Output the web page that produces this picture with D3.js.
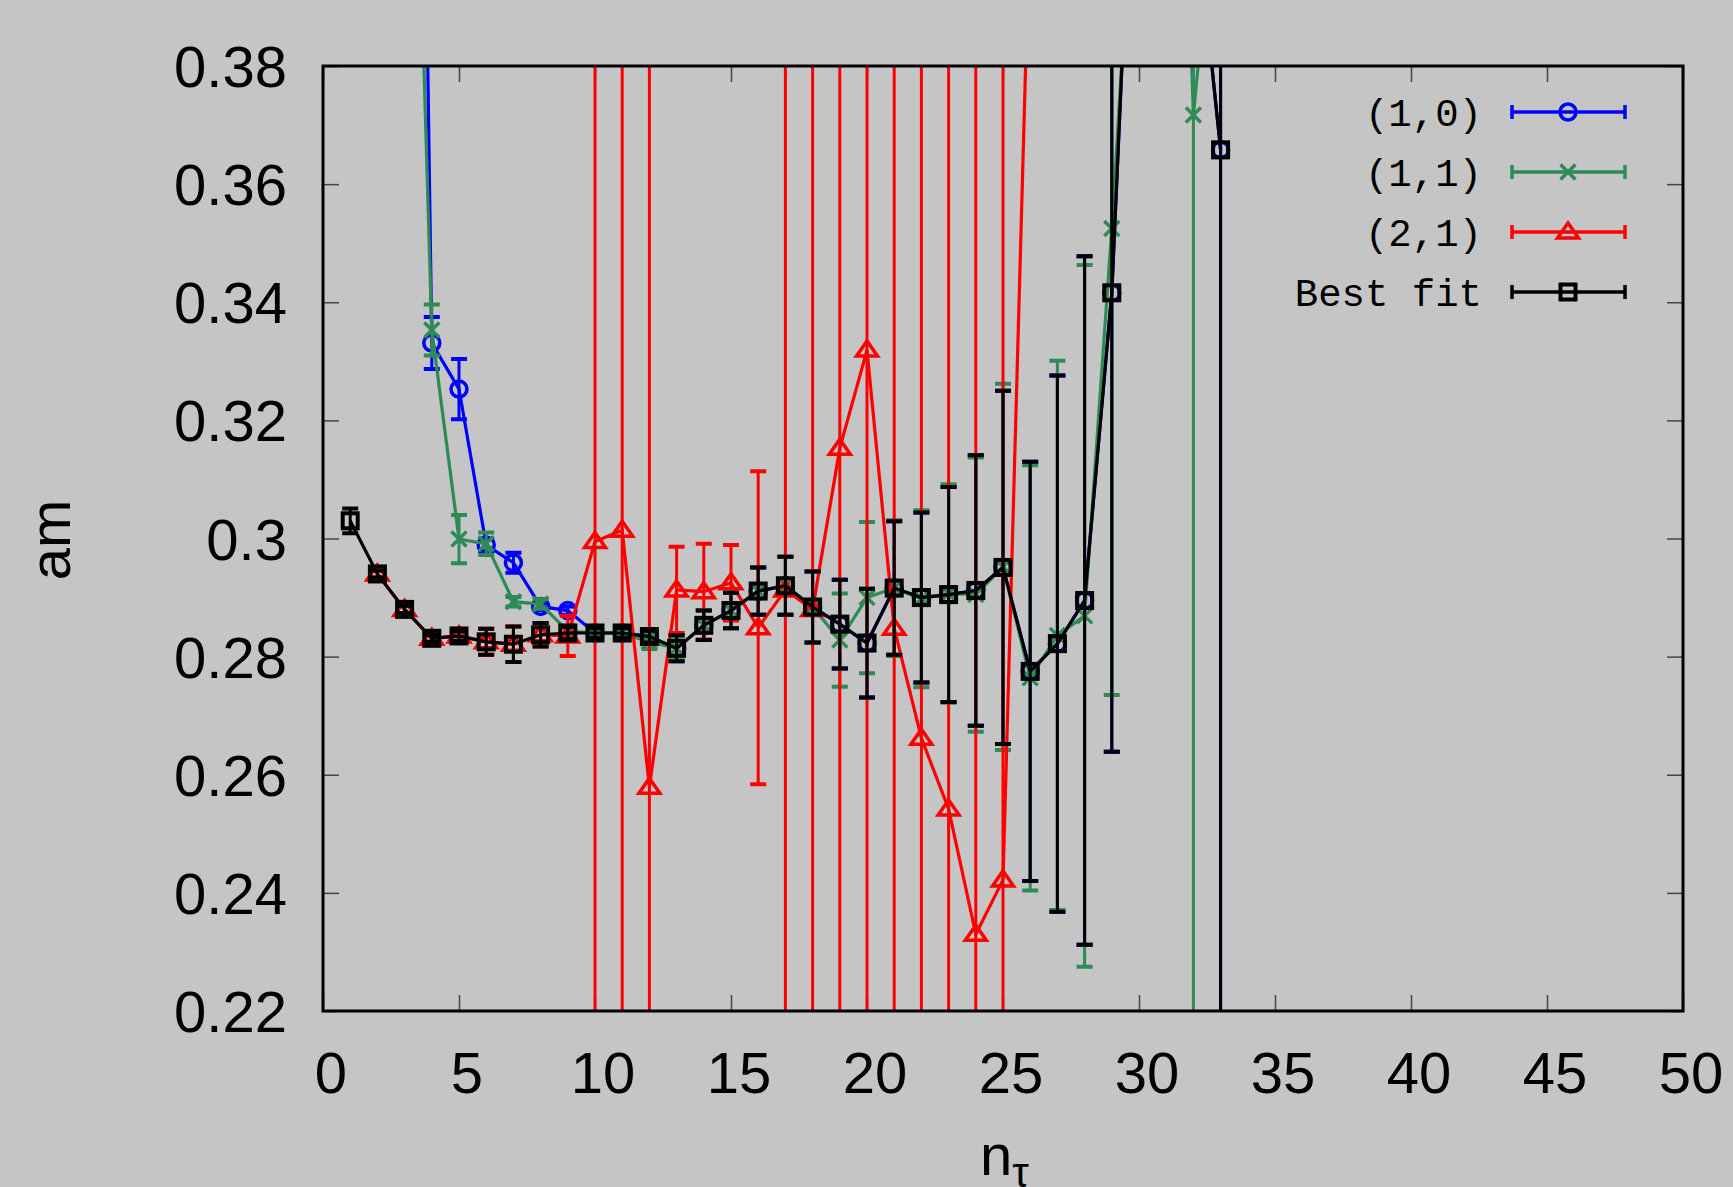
<!DOCTYPE html>
<html>
<head>
<meta charset="utf-8">
<script src="https://cdn.jsdelivr.net/npm/d3@7"></script>
<style>
  html, body { margin: 0; padding: 0; background: #c4c5c4; }
  svg { display: block; }
</style>
</head>
<body>
<svg id="chart"></svg>
<script>
// --- DATA ---
const xTicks = [0, 5, 10, 15, 20, 25, 30, 35, 40, 45, 50];
const yTicks = [0.22, 0.24, 0.26, 0.28, 0.3, 0.32, 0.34, 0.36, 0.38];
const yTickLabels = ['0.22', '0.24', '0.26', '0.28', '0.3', '0.32', '0.34', '0.36', '0.38'];

// (1,0)
const n10 = [3, 4, 5, 6, 7, 8, 9, 10, 11, 12, 13, 14, 15, 16, 17, 18, 19, 20, 21, 22, 23, 24, 25, 26, 27, 28, 29, 30, 31, 32, 33];
const am10 = [0.65, 0.3331, 0.3253, 0.2989, 0.2959, 0.2885, 0.2878, 0.2840, 0.2840, 0.2834, 0.2814, 0.2853, 0.2878, 0.2911, 0.2920, 0.2884, 0.2855, 0.2823, 0.2916, 0.2900, 0.2905, 0.2912, 0.2951, 0.2775, 0.2822, 0.2895, 0.3416, 0.445, 0.47, 0.41, 0.3658];
const err10 = [0.01, 0.0044, 0.0051, 0.0010, 0.0017, 0.0006, 0.0007, 0.0008, 0.0008, 0.0010, 0.0022, 0.0025, 0.0030, 0.0040, 0.0049, 0.0060, 0.0075, 0.0092, 0.0113, 0.0144, 0.0182, 0.0229, 0.0299, 0.0355, 0.0454, 0.0583, 0.0777, 0.03, 0.03, 0.02, 0.2];

// (1,1)
const n11 = [3, 4, 5, 6, 7, 8, 9, 10, 11, 12, 13, 14, 15, 16, 17, 18, 19, 20, 21, 22, 23, 24, 25, 26, 27, 28, 29, 30, 31, 32, 33];
const am11 = [0.489, 0.3353, 0.2999, 0.2991, 0.2893, 0.2889, 0.2843, 0.2840, 0.2840, 0.2825, 0.2814, 0.2853, 0.2878, 0.2911, 0.2920, 0.2884, 0.2828, 0.2900, 0.2916, 0.2898, 0.2907, 0.2905, 0.2952, 0.2764, 0.2836, 0.2869, 0.3525, 0.429, 0.51, 0.3717, 0.42];
const err11 = [0.01, 0.0043, 0.0041, 0.0019, 0.0008, 0.0008, 0.0008, 0.0008, 0.0008, 0.0012, 0.0020, 0.0025, 0.0030, 0.0040, 0.0049, 0.0060, 0.0079, 0.0128, 0.0115, 0.0150, 0.0185, 0.0232, 0.0310, 0.0360, 0.0465, 0.0594, 0.0790, 0.02, 0.03, 0.2, 0.02];

// (2,1)
const n21 = [2, 3, 4, 5, 6, 7, 8, 9, 10, 11, 12, 13, 14, 15, 16, 17, 18, 19, 20, 21, 22, 23, 24, 25, 26];
const am21 = [0.2940, 0.2880, 0.2831, 0.2835, 0.2825, 0.2821, 0.2837, 0.2835, 0.2995, 0.3014, 0.2579, 0.2913, 0.2910, 0.2925, 0.2849, 0.2913, 0.2880, 0.3153, 0.3319, 0.2848, 0.2662, 0.2542, 0.2330, 0.2422, 0.408];
const err21 = [0.0006, 0.0006, 0.0006, 0.0008, 0.0022, 0.0030, 0.0020, 0.0034, 0.25, 0.3, 0.2, 0.0073, 0.0081, 0.0064, 0.0265, 0.2, 0.25, 0.3, 0.3, 0.25, 0.2, 0.25, 0.3, 0.25, 0.02];

// Best fit
const nBest = [1, 2, 3, 4, 5, 6, 7, 8, 9, 10, 11, 12, 13, 14, 15, 16, 17, 18, 19, 20, 21, 22, 23, 24, 25, 26, 27, 28, 29, 30, 31, 32, 33];
const amBest = [0.3030, 0.2940, 0.2880, 0.2831, 0.2835, 0.2825, 0.2821, 0.2837, 0.2840, 0.2840, 0.2840, 0.2834, 0.2814, 0.2853, 0.2878, 0.2911, 0.2920, 0.2884, 0.2855, 0.2823, 0.2916, 0.2900, 0.2905, 0.2912, 0.2951, 0.2775, 0.2822, 0.2895, 0.3416, 0.445, 0.47, 0.41, 0.3658];
const errBest = [0.0021, 0.0006, 0.0006, 0.0006, 0.0008, 0.0022, 0.0030, 0.0020, 0.0010, 0.0008, 0.0008, 0.0010, 0.0022, 0.0025, 0.0030, 0.0040, 0.0049, 0.0060, 0.0075, 0.0092, 0.0113, 0.0144, 0.0182, 0.0229, 0.0299, 0.0355, 0.0454, 0.0583, 0.0777, 0.03, 0.03, 0.02, 0.2];

const seriesNames = ['(1,0)', '(1,1)', '(2,1)', 'Best fit'];
const seriesColors = ['#0000ff', '#2e8b57', '#ff0000', '#000000'];
const seriesMarkers = ['circle', 'cross', 'triangle', 'square'];

// --- SETUP ---
const width = 1733;
const height = 1187;
const plot = { left: 323, right: 1683, top: 66, bottom: 1011 };

const svg = d3.select('#chart')
    .attr('width', width)
    .attr('height', height);

svg.append('rect')
    .attr('width', width)
    .attr('height', height)
    .attr('fill', '#c4c5c4');

const x = d3.scaleLinear().domain([0, 50]).range([plot.left, plot.right]);
const y = d3.scaleLinear().domain([0.22, 0.38]).range([plot.bottom, plot.top]);

svg.append('defs').append('clipPath')
    .attr('id', 'plot-clip')
    .append('rect')
    .attr('x', plot.left)
    .attr('y', plot.top)
    .attr('width', plot.right - plot.left)
    .attr('height', plot.bottom - plot.top);

// --- AXES ---
const tickLen = 16;
const sansFont = '"Liberation Sans", Arial, Helvetica, sans-serif';

const xAxisBottom = d3.axisBottom(x).tickValues(xTicks).tickSize(-tickLen).tickFormat('');
const xAxisTop = d3.axisTop(x).tickValues(xTicks).tickSize(-tickLen).tickFormat('');
const yAxisLeft = d3.axisLeft(y).tickValues(yTicks).tickSize(-tickLen).tickFormat('');
const yAxisRight = d3.axisRight(y).tickValues(yTicks).tickSize(-tickLen).tickFormat('');

const axes = [
    svg.append('g').attr('transform', `translate(0,${plot.bottom})`).call(xAxisBottom),
    svg.append('g').attr('transform', `translate(0,${plot.top})`).call(xAxisTop),
    svg.append('g').attr('transform', `translate(${plot.left},0)`).call(yAxisLeft),
    svg.append('g').attr('transform', `translate(${plot.right},0)`).call(yAxisRight)
];
axes.forEach(g => {
    g.select('.domain').remove();
    g.selectAll('.tick line').attr('stroke', '#444').attr('stroke-width', 1.5);
});

// tick labels
svg.append('g')
    .selectAll('text')
    .data(xTicks)
    .enter().append('text')
    .attr('x', d => x(d) + 8)
    .attr('y', 1093)
    .attr('text-anchor', 'middle')
    .attr('font-family', sansFont)
    .attr('font-size', 58)
    .attr('fill', '#000')
    .text(d => d);

svg.append('g')
    .selectAll('text')
    .data(yTicks)
    .enter().append('text')
    .attr('x', 287)
    .attr('y', d => y(d) + 21)
    .attr('text-anchor', 'end')
    .attr('font-family', sansFont)
    .attr('font-size', 58)
    .attr('fill', '#000')
    .text((d, i) => yTickLabels[i]);

// axis titles
svg.append('text')
    .attr('transform', 'translate(70,540) rotate(-90)')
    .attr('text-anchor', 'middle')
    .attr('font-family', sansFont)
    .attr('font-size', 58)
    .attr('fill', '#000')
    .text('am');

const xTitle = svg.append('text')
    .attr('x', 980)
    .attr('y', 1175)
    .attr('font-family', sansFont)
    .attr('font-size', 58)
    .attr('fill', '#000');
xTitle.append('tspan').text('n');
xTitle.append('tspan')
    .attr('font-size', 42)
    .attr('dy', 12)
    .text('τ');

// --- MARKERS ---
function drawMarker(g, type, cx, cy, color) {
    switch (type) {
        case 'circle':
            g.append('circle').attr('cx', cx).attr('cy', cy).attr('r', 8)
                .attr('fill', 'none').attr('stroke', color).attr('stroke-width', 3.5);
            break;
        case 'cross':
            g.append('path')
                .attr('d', `M${cx - 7.5},${cy - 7.5}L${cx + 7.5},${cy + 7.5}M${cx - 7.5},${cy + 7.5}L${cx + 7.5},${cy - 7.5}`)
                .attr('fill', 'none').attr('stroke', color).attr('stroke-width', 3.5);
            break;
        case 'triangle':
            g.append('path')
                .attr('d', `M${cx},${cy - 9}L${cx + 10.5},${cy + 6}L${cx - 10.5},${cy + 6}Z`)
                .attr('fill', 'none').attr('stroke', color).attr('stroke-width', 3.5);
            break;
        case 'square':
            g.append('rect').attr('x', cx - 7.5).attr('y', cy - 7.5).attr('width', 15).attr('height', 15)
                .attr('fill', 'none').attr('stroke', color).attr('stroke-width', 4);
            break;
    }
}

// --- SERIES ---
const capHalf = 8;
const plotArea = svg.append('g').attr('clip-path', 'url(#plot-clip)');

function drawSeries(ns, vals, errs, color, marker) {
    const pts = ns.map((n, i) => ({ n: n, v: vals[i], e: errs[i] }));
    const g = plotArea.append('g');

    g.append('path')
        .datum(pts)
        .attr('d', d3.line().x(d => x(d.n)).y(d => y(d.v)))
        .attr('fill', 'none')
        .attr('stroke', color)
        .attr('stroke-width', 3.2)
        .attr('stroke-linejoin', 'miter');

    const bars = g.append('g')
        .attr('stroke', color)
        .attr('fill', 'none');
    pts.forEach(d => {
        const px = x(d.n);
        const yHi = y(d.v + d.e);
        const yLo = y(d.v - d.e);
        bars.append('path')
            .attr('stroke-width', 3)
            .attr('d', `M${px},${yLo}L${px},${yHi}`);
        bars.append('path')
            .attr('stroke-width', 4)
            .attr('d', `M${px - capHalf},${yHi}L${px + capHalf},${yHi}M${px - capHalf},${yLo}L${px + capHalf},${yLo}`);
    });

    pts.filter(d => d.v <= 0.38 && d.v >= 0.22)
        .forEach(d => drawMarker(g, marker, x(d.n), y(d.v), color));
}

drawSeries(n10, am10, err10, seriesColors[0], seriesMarkers[0]);
drawSeries(n11, am11, err11, seriesColors[1], seriesMarkers[1]);
drawSeries(n21, am21, err21, seriesColors[2], seriesMarkers[2]);
drawSeries(nBest, amBest, errBest, seriesColors[3], seriesMarkers[3]);

// --- LEGEND ---
const legendRows = [112, 172, 232, 292];
const legend = svg.append('g');
seriesNames.forEach((name, i) => {
    const ly = legendRows[i];
    const color = seriesColors[i];
    legend.append('text')
        .attr('x', 1482)
        .attr('y', ly + 14)
        .attr('text-anchor', 'end')
        .attr('font-family', '"Liberation Mono", "Courier New", monospace')
        .attr('font-size', 39)
        .attr('fill', '#000')
        .attr('xml:space', 'preserve')
        .style('white-space', 'pre')
        .text(name);
    legend.append('path')
        .attr('d', `M1512,${ly}L1625,${ly}M1512,${ly - 7}L1512,${ly + 7}M1625,${ly - 7}L1625,${ly + 7}`)
        .attr('fill', 'none')
        .attr('stroke', color)
        .attr('stroke-width', 3.5);
    drawMarker(legend, seriesMarkers[i], 1568, ly, color);
});

// --- BORDER ---
svg.append('rect')
    .attr('x', plot.left)
    .attr('y', plot.top)
    .attr('width', plot.right - plot.left)
    .attr('height', plot.bottom - plot.top)
    .attr('fill', 'none')
    .attr('stroke', '#000')
    .attr('stroke-width', 3);
</script>
</body>
</html>
